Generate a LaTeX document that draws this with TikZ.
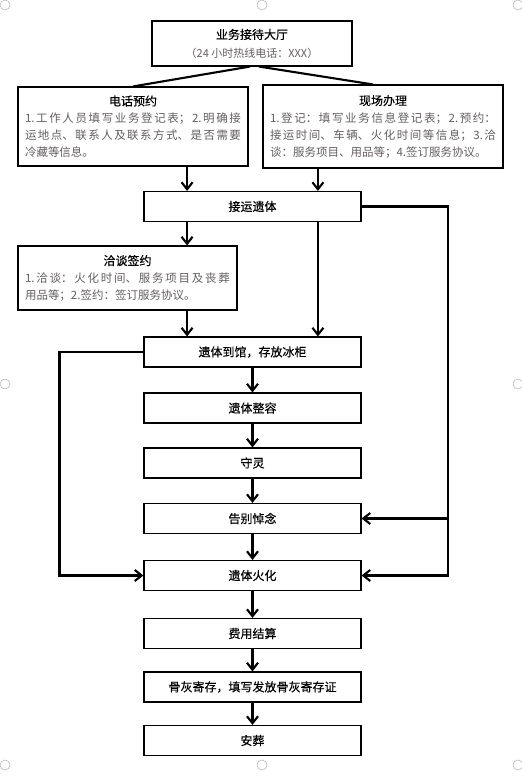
\documentclass[tikz,border=0pt]{standalone}
\usepackage{fontspec}
\usepackage{tikz}
\usetikzlibrary{arrows.meta, calc}
\newfontfamily\cjk[FakeBold=0.3]{Noto Sans CJK SC}
\newfontfamily\cjknote{Noto Sans CJK SC}
\definecolor{notegray}{RGB}{100,94,94}
\XeTeXlinebreaklocale "zh"
\XeTeXlinebreakskip=0pt plus 4pt
\tolerance=10000

\begin{document}
\begin{tikzpicture}[x=1pt, y=-1pt, >={Straight Barb[length=7pt, width=11pt]},
    font=\cjk\fontsize{12}{17}\selectfont,
    stepbox/.style={draw, line width=1.1pt, minimum width=217pt, minimum height=30pt, inner sep=0pt},
    notebox/.style={draw, line width=1.1pt, align=justify, inner xsep=7pt, inner ysep=3pt},
    notetext/.style={font=\cjknote\fontsize{11.5}{17}\selectfont},
    link/.style={line width=2.1pt}]
  \useasboundingbox (0,0) rectangle (522,780);
  % selection handles
  \foreach \hx/\hy in {5/5, 262/5, 518/5, 5/384, 518/384, 5/765, 262/765, 518/765}
    \draw[gray!55, line width=0.6pt] (\hx,\hy) circle[radius=5pt];

  \node[draw, line width=1.1pt, minimum width=200pt, minimum height=45pt, align=center] (hall) at (252, 43.5)
    {业务接待大厅\\[1pt]{\cjknote\fontsize{11}{13}\selectfont\color{notegray}（24 小时热线电话：XXX）}};

  \node[notebox, notetext, text width=216pt, minimum height=79pt] (phone) at (133, 126.5)
    {{\centering\cjk\fontsize{12}{17}\selectfont 电话预约\par}\textcolor{notegray}{1.工作人员填写业务登记表；2.明确接\linebreak
     运地点、联系人及联系方式、是否需要\linebreak 冷藏等信息。}};
  \node[notebox, notetext, text width=226pt, minimum height=83pt] (onsite) at (383, 126.5)
    {{\centering\cjk\fontsize{12}{17}\selectfont 现场办理\par}\textcolor{notegray}{1.登记：填写业务信息登记表；2.预约：\linebreak
     接运时间、车辆、火化时间等信息；3.洽\linebreak 谈：服务项目、用品等；4.签订服务协议。}};

  \node[stepbox] (pickup) at (252.5, 206.5) {接运遗体};
  \coordinate (pl) at ($(pickup.north west)!0.2!(pickup.north east)$);
  \coordinate (pr) at ($(pickup.north west)!0.8!(pickup.north east)$);

  \node[notebox, notetext, text width=205pt, minimum height=64pt] (talk) at (127.5, 278)
    {{\centering\cjk\fontsize{12}{17}\selectfont 洽谈签约\par}\textcolor{notegray}{1.洽谈：火化时间、服务项目及丧葬\linebreak
     用品等；2.签约：签订服务协议。}};

  \node[stepbox] (arrive)   at (252.5, 352)   {遗体到馆，存放冰柜};
  \node[stepbox] (dress)    at (252.5, 408)   {遗体整容};
  \node[stepbox] (vigil)    at (252.5, 463)   {守灵};
  \node[stepbox] (farewell) at (252.5, 518.5) {告别悼念};
  \node[stepbox] (cremate)  at (252.5, 575.5) {遗体火化};
  \node[stepbox] (settle)   at (252.5, 633.5) {费用结算};
  \node[stepbox] (ashes)    at (252.5, 687)   {骨灰寄存，填写发放骨灰寄存证};
  \node[stepbox] (burial)   at (252.5, 740.5) {安葬};
  \coordinate (rail) at ($(pickup.east)+(86,0)$);

  \draw[link] ([xshift=-2pt]hall.south) -- (phone.north);
  \draw[link] ([xshift=7pt]hall.south) -- ([xshift=-10pt]onsite.north);
  \draw[link, ->] (pl |- phone.south) -- (pl);
  \draw[link, ->] (pr |- onsite.south) -- (pr);
  \draw[link, ->] (pl |- pickup.south) -- (pl |- talk.north);
  \draw[link, ->] (pr |- pickup.south) -- (pr |- arrive.north);
  \draw[link, ->] (pl |- talk.south) -- (pl |- arrive.north);
  \draw[link, ->] (arrive) -- (dress);
  \draw[link, ->] (dress) -- (vigil);
  \draw[link, ->] (vigil) -- (farewell);
  \draw[link, ->] (farewell) -- (cremate);
  \draw[link, ->] (cremate) -- (settle);
  \draw[link, ->] (settle) -- (ashes);
  \draw[link, ->] (ashes) -- (burial);
  \draw[link, ->] (pickup.east) -- (rail) |- (cremate.east);
  \draw[link, ->] (rail |- farewell.east) -- (farewell.east);
  \draw[link, ->] (arrive.west) -- ++(-84,0) |- (cremate.west);
\end{tikzpicture}
\end{document}
